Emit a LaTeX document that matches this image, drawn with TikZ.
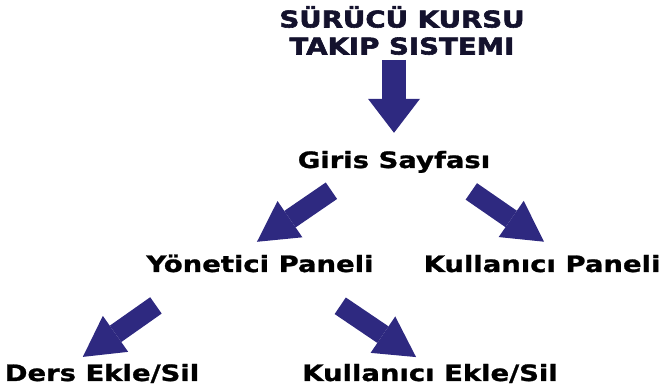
\documentclass[tikz,border=0pt]{standalone}
\usepackage{fontspec}
\usetikzlibrary{arrows.meta}
\newfontfamily\diafont[FakeStretch=1.22,BoldFeatures={FakeBold=1.2}]{DejaVu Sans}
\newfontfamily\titlefont[FakeStretch=1.2,BoldFeatures={FakeBold=2.5}]{DejaVu Sans}
\definecolor{arrowblue}{RGB}{46,41,128}
\definecolor{titleink}{RGB}{20,18,45}
\begin{document}
\begin{tikzpicture}[x=1pt,y=-1pt,
	lbl/.style={inner sep=0pt,text height=17pt,text depth=5pt,anchor=base,font=\diafont\bfseries\fontsize{22.5}{27}\selectfont},
	fat/.style={arrowblue,line width=20pt,-{Triangle[length=40pt,width=44pt,line width=0pt]}}]
	\useasboundingbox (0,0) rectangle (665,387);
	\node[inner sep=0pt,anchor=south,align=center,text=titleink,font=\titlefont\bfseries\fontsize{23}{27}\selectfont] (titel) at (402,55) {SÜRÜCÜ KURSU\\TAKIP SISTEMI};
	\node[lbl] (giris) at (394,168) {Giris Sayfası};
	\node[lbl] (yonetici) at (260,272) {Yönetici Paneli};
	\node[lbl] (kpanel) at (542,272) {Kullanıcı Paneli};
	\node[lbl] (ders) at (102,381) {Ders Ekle/Sil};
	\node[lbl] (kekle) at (430,381) {Kullanıcı Ekle/Sil};
	\draw[fat,line width=24pt,-{Triangle[length=34pt,width=52pt,line width=0pt]},shorten <=5pt,shorten >=18pt] (giris.north |- titel.south) -- (giris.north);
	\draw[fat,shorten <=31pt,shorten >=23pt] ([xshift=-37pt]giris.south) -- ([xshift=-22pt]yonetici.north);
	\draw[fat,shorten <=32pt,shorten >=23pt] ([xshift=51pt]giris.south) -- ([xshift=21pt]kpanel.north);
	\draw[fat,shorten <=49pt,shorten >=12pt] ([xshift=-64pt]yonetici.south) -- ([xshift=-29pt]ders.north);
	\draw[fat,shorten <=51pt,shorten >=12pt] ([xshift=38pt]yonetici.south) -- ([xshift=-4pt]kekle.north);
\end{tikzpicture}
\end{document}
